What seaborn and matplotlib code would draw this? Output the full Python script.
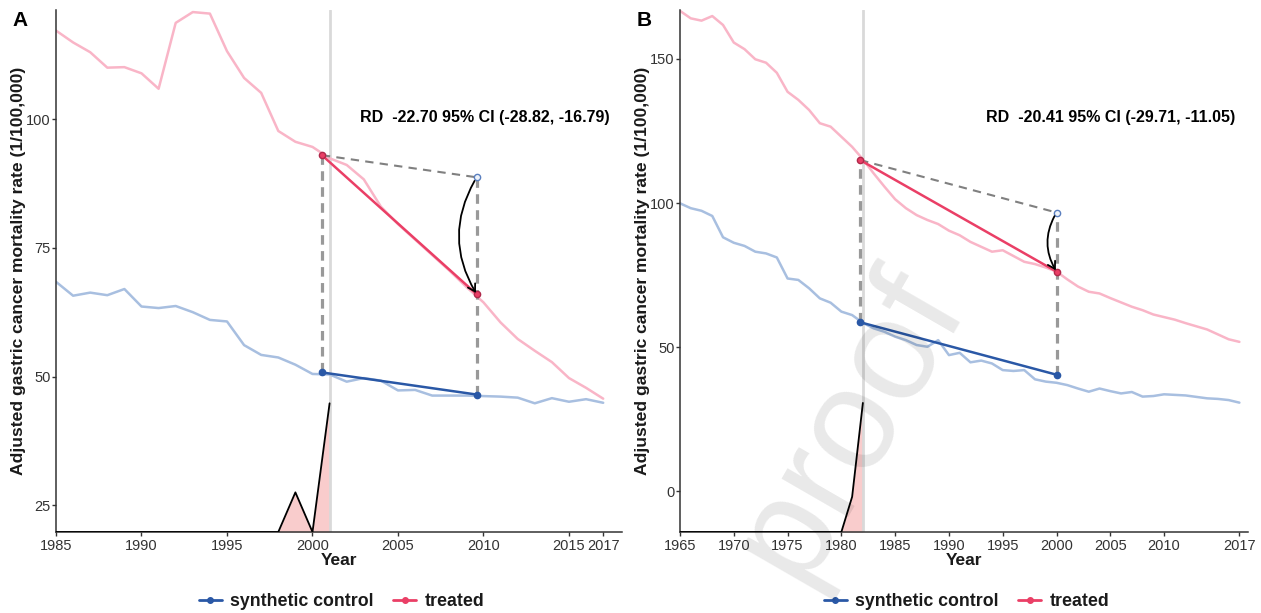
import numpy as np
import pandas as pd
import matplotlib
matplotlib.use("Agg")
import matplotlib.pyplot as plt
from matplotlib.patches import FancyArrowPatch
from matplotlib.lines import Line2D
import seaborn as sns

# ---------------- Panel A data (1985-2017) ----------------
years_a = list(range(1985, 2018))
treated_a = [117.2, 114.9, 113.0, 110.0, 110.1, 108.9, 105.9, 118.7, 120.8, 120.5,
             113.2, 108.0, 105.1, 97.7, 95.6, 94.6, 92.4, 91.1, 88.3, 83.0,
             79.6, 76.6, 73.6, 70.6, 67.4, 64.4, 60.5, 57.3, 55.0, 52.8,
             49.7, 47.8, 45.7]
control_a = [68.4, 65.7, 66.3, 65.8, 67.0, 63.6, 63.3, 63.7, 62.5, 61.0,
             60.7, 56.1, 54.2, 53.7, 52.3, 50.5, 50.4, 49.0, 49.7, 49.2,
             47.3, 47.4, 46.3, 46.3, 46.3, 46.2, 46.1, 45.9, 44.8, 45.8,
             45.1, 45.6, 44.9]
weight_years_a = list(range(1985, 2002))
weight_a = [19.8] * 14 + [27.5, 19.8, 44.8]
policy_a = 2001
pre_a, post_a = 2000.55, 2009.6
treated_pre_a, treated_post_a = 93.0, 66.0
control_pre_a, control_post_a = 50.8, 46.5
rd_a = "RD  -22.70 95% CI (-28.82, -16.79)"
xticks_a = [1985, 1990, 1995, 2000, 2005, 2010, 2015, 2017]
yticks_a = [25, 50, 75, 100]

# ---------------- Panel B data (1965-2017) ----------------
years_b = list(range(1965, 2018))
treated_b = [166.7, 164.1, 163.3, 164.9, 161.8, 155.7, 153.4, 149.9, 148.7, 145.2,
             138.6, 135.8, 132.3, 127.7, 126.5, 123.0, 119.5, 115.2, 110.3, 105.7,
             101.3, 98.2, 95.8, 94.1, 92.7, 90.4, 88.8, 86.5, 84.8, 83.1,
             83.6, 81.6, 79.6, 78.8, 77.6, 76.2, 73.5, 71.0, 69.2, 68.6,
             67.0, 65.5, 64.0, 62.8, 61.3, 60.4, 59.5, 58.3, 57.2, 56.1,
             54.4, 52.7, 51.8]
control_b = [99.9, 98.2, 97.3, 95.5, 88.1, 86.2, 85.1, 83.1, 82.5, 81.1,
             73.8, 73.3, 70.4, 66.9, 65.4, 62.3, 61.1, 58.4, 56.5, 55.3,
             53.6, 52.4, 50.7, 50.1, 52.4, 47.2, 48.0, 44.7, 45.3, 44.3,
             42.0, 41.7, 42.0, 38.8, 38.0, 37.6, 36.8, 35.6, 34.5, 35.6,
             34.7, 33.9, 34.4, 32.8, 33.0, 33.6, 33.4, 33.2, 32.7, 32.2,
             32.0, 31.6, 30.7]
weight_years_b = list(range(1965, 1983))
weight_b = [-14.2] * 16 + [-2.0, 30.6]
policy_b = 1982
pre_b, post_b = 1981.75, 2000
treated_pre_b, treated_post_b = 114.9, 76.2
control_pre_b, control_post_b = 58.6, 40.4
rd_b = "RD  -20.41 95% CI (-29.71, -11.05)"
xticks_b = [1965, 1970, 1975, 1980, 1985, 1990, 1995, 2000, 2005, 2010, 2017]
yticks_b = [0, 50, 100, 150]

# ---------------- styling ----------------
sns.set_theme(style="white")
plt.rcParams["font.family"] = ["Liberation Sans", "DejaVu Sans"]

TREATED_LIGHT = "#f9b5c7"
CONTROL_LIGHT = "#a8bfe0"
TREATED_DARK = "#ea3f66"
CONTROL_DARK = "#2a58a6"
DASH_GREY = "#999999"
TEXT_DARK = "#1a1a1a"

W, H = 1261, 613
fig = plt.figure(figsize=(W / 100, H / 100), dpi=100)


def panel(rect, years, treated, control, wyears, weight, policy, pre, post,
          t_pre, t_post, c_pre, c_post, rd_text, rd_xy, xlim, ylim,
          xticks, yticks, letter):
    ax = fig.add_axes(rect)
    df = pd.DataFrame({
        "Year": years * 2,
        "rate": treated + control,
        "group": ["treated"] * len(years) + ["synthetic control"] * len(years),
    })
    sns.lineplot(data=df, x="Year", y="rate", hue="group",
                 palette={"treated": TREATED_LIGHT, "synthetic control": CONTROL_LIGHT},
                 linewidth=1.8, legend=False, ax=ax, zorder=2)

    # donor-weight profile before the policy year
    ax.fill_between(wyears, ylim[0], weight, color="#f9cccc", zorder=1, linewidth=0)
    ax.plot(wyears, weight, color="black", linewidth=1.3, zorder=3)

    # policy year marker
    ax.axvline(policy, color="#d9d9d9", linewidth=2, zorder=1)

    cf_post = t_pre + (c_post - c_pre)
    # vertical dashed guides
    ax.plot([pre, pre], [c_pre, t_pre], color=DASH_GREY, linewidth=2.3,
            linestyle=(0, (3, 2)), zorder=3)
    ax.plot([post, post], [c_post, cf_post], color=DASH_GREY, linewidth=2.3,
            linestyle=(0, (3, 2)), zorder=3)
    # counterfactual trajectory
    ax.plot([pre, post], [t_pre, cf_post], color="#808080", linewidth=1.5,
            linestyle=(0, (4, 3)), zorder=3)
    # pre-post segments
    ax.plot([pre, post], [t_pre, t_post], color=TREATED_DARK, linewidth=1.8,
            marker="o", markersize=4.5, markerfacecolor=TREATED_DARK,
            markeredgecolor="#b0284a", zorder=4)
    ax.plot([pre, post], [c_pre, c_post], color=CONTROL_DARK, linewidth=1.8,
            marker="o", markersize=4.5, markerfacecolor=CONTROL_DARK, zorder=4)
    ax.plot([post], [cf_post], marker="o", markersize=4.5,
            markerfacecolor="#eef3fa", markeredgecolor="#5a7fbf", zorder=5)

    arrow = FancyArrowPatch((post, cf_post), (post, t_post),
                            connectionstyle="arc3,rad=0.3",
                            arrowstyle="->,head_length=5,head_width=3",
                            color="black", linewidth=1.3, zorder=6,
                            shrinkA=3, shrinkB=1)
    ax.add_patch(arrow)

    ax.text(rd_xy[0], rd_xy[1], rd_text, ha="center", va="center",
            fontsize=11.5, fontweight="bold", color="black")

    ax.set_xlim(*xlim)
    ax.set_ylim(*ylim)
    ax.set_xticks(xticks)
    ax.set_yticks(yticks)
    ax.tick_params(axis="both", which="both", length=3, width=1,
                   color="#333333", labelsize=10.5, labelcolor="#333333",
                   direction="out", bottom=True, left=True)
    ax.tick_params(axis="y", pad=1)
    ax.tick_params(axis="x", pad=2)
    for s in ("top", "right"):
        ax.spines[s].set_visible(False)
    for s in ("left", "bottom"):
        ax.spines[s].set_color("#333333")
        ax.spines[s].set_linewidth(1.1)
    ax.set_xlabel("Year", fontsize=12.5, fontweight="bold", labelpad=0,
                  color=TEXT_DARK)
    ax.set_ylabel("Adjusted gastric cancer mortality rate (1/100,000)",
                  fontsize=12.6, fontweight="bold", labelpad=0, color=TEXT_DARK)
    ax.grid(False)

    fig.text(rect[0] - 36 / W, 1 - 21 / H, letter, fontsize=15, fontweight="bold",
             ha="center", va="center", color="black")

    handles = [
        Line2D([], [], color=CONTROL_DARK, linewidth=2, marker="o", markersize=4),
        Line2D([], [], color=TREATED_DARK, linewidth=2, marker="o", markersize=4),
    ]
    leg = ax.legend(handles, ["synthetic control", "treated"], loc="center",
                    bbox_to_anchor=(0.505, -0.133), ncol=2, frameon=False,
                    prop={"size": 12.8, "weight": "bold"}, handlelength=1.25,
                    columnspacing=1.1, handletextpad=0.5, borderpad=0.2)
    for t in leg.get_texts():
        t.set_color(TEXT_DARK)
    return ax


ax_a = panel([56 / W, 1 - 532 / H, (622 - 56) / W, (532 - 10) / H],
             years_a, treated_a, control_a, weight_years_a, weight_a, policy_a,
             pre_a, post_a, treated_pre_a, treated_post_a, control_pre_a,
             control_post_a, rd_a, (2010.1, 100.3), (1985, 2018.1), (19.8, 121.2),
             xticks_a, yticks_a, "A")

ax_b = panel([680 / W, 1 - 532 / H, (1248 - 680) / W, (532 - 10) / H],
             years_b, treated_b, control_b, weight_years_b, weight_b, policy_b,
             pre_b, post_b, treated_pre_b, treated_post_b, control_pre_b,
             control_post_b, rd_b, (2005.0, 129.8), (1965, 2017.8), (-14.2, 167),
             xticks_b, yticks_b, "B")

# watermark
fig.text(850 / W, 1 - 425 / H, "proof", fontsize=104, color="black", alpha=0.09,
         rotation=60, ha="center", va="center", zorder=0)

fig.savefig("out.png", dpi=100, facecolor="white")
